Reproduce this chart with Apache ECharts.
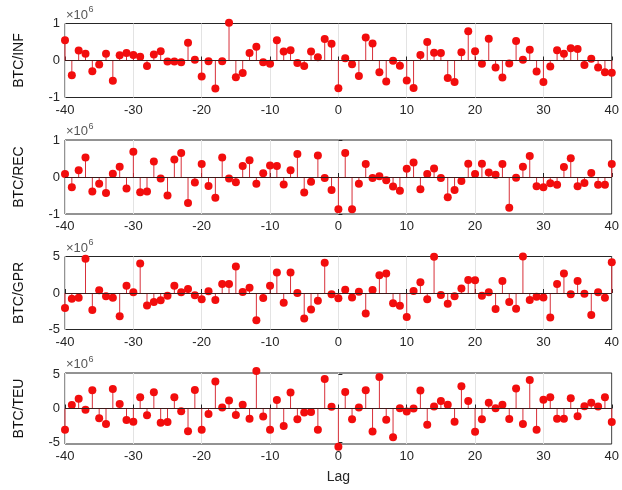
<!DOCTYPE html>
<html><head><meta charset="utf-8">
<script src="https://cdn.jsdelivr.net/npm/echarts@6/dist/echarts.min.js"></script>
<style>html,body{margin:0;padding:0;background:#fff}#c{width:622px;height:490px}</style>
</head><body><div id="c"></div>
<script>
// Lags (x axis)
const lags = [-40,-39,-38,-37,-36,-35,-34,-33,-32,-31,-30,-29,-28,-27,-26,-25,-24,-23,-22,-21,-20,-19,-18,-17,-16,-15,-14,-13,-12,-11,-10,-9,-8,-7,-6,-5,-4,-3,-2,-1,0,1,2,3,4,5,6,7,8,9,10,11,12,13,14,15,16,17,18,19,20,21,22,23,24,25,26,27,28,29,30,31,32,33,34,35,36,37,38,39,40];
const xTickLabels = [-40,-30,-20,-10,0,10,20,30,40];

// Cross-correlation values, in units of 10^6
const btcInf = [0.55,-0.40,0.27,0.18,-0.29,-0.11,0.18,-0.55,0.14,0.20,0.15,0.10,-0.15,0.16,0.25,-0.03,-0.03,-0.05,0.48,0.02,-0.43,-0.02,-0.76,-0.02,1.02,-0.45,-0.34,0.20,0.37,-0.05,-0.09,0.55,0.24,0.28,-0.07,-0.15,0.24,0.09,0.58,0.45,
  -0.75,0.06,-0.10,-0.42,0.62,0.46,-0.32,-0.57,-0.01,-0.14,-0.54,-0.74,0.15,0.50,0.21,0.20,-0.47,-0.58,0.22,0.79,0.25,-0.09,0.59,-0.19,-0.46,-0.08,0.53,0.02,0.29,-0.30,-0.58,-0.16,0.28,0.18,0.33,0.31,-0.12,0.05,-0.19,-0.32,-0.33];
const btcRec = [0.08,-0.28,0.18,0.53,-0.39,-0.18,-0.43,0.09,0.28,-0.31,0.68,-0.41,-0.39,0.42,-0.04,-0.50,0.47,0.65,-0.70,-0.15,0.35,-0.24,-0.56,0.53,-0.04,-0.14,0.30,0.45,-0.18,0.10,0.31,0.30,-0.20,0.18,0.62,-0.42,-0.13,0.58,-0.03,-0.35,
  -0.87,0.65,-0.87,-0.18,0.35,-0.03,0.02,-0.09,-0.26,-0.37,0.22,0.39,-0.33,0.08,0.23,-0.03,-0.55,-0.35,-0.11,0.36,0.08,0.36,0.12,0.06,0.35,-0.83,-0.02,0.28,0.57,-0.25,-0.28,-0.17,-0.21,0.27,0.51,-0.25,-0.16,0.11,-0.21,-0.21,0.35];
const btcGpr = [-2.06,-0.78,-0.64,4.68,-2.34,0.37,-0.46,-0.64,-3.17,1.00,0.09,4.04,-1.70,-1.24,-1.00,-0.37,1.00,0.09,0.55,-0.32,-0.87,0.23,-0.96,1.24,1.24,3.62,0.14,0.73,-3.72,-0.69,1.00,2.80,-1.33,2.80,0.00,-3.49,-2.25,-1.06,4.13,-0.18,
  -0.73,0.46,-0.60,0.18,-2.80,0.41,2.43,2.66,-1.42,-1.74,-3.30,0.28,1.47,-0.87,4.95,-0.28,-1.47,-0.46,0.60,1.79,1.74,-0.37,0.09,-2.20,1.65,-1.24,-2.16,5.00,-0.96,-0.50,-0.60,-3.35,1.24,2.66,-0.18,1.65,-0.09,-3.03,0.09,-0.64,4.22];
const btcTeu = [-3.15,0.50,1.45,-0.20,2.70,-1.45,-2.30,2.90,0.65,-1.70,-1.95,1.65,-1.00,2.40,-2.10,-2.00,1.65,-0.40,-3.35,2.75,-3.15,-0.80,4.00,0.15,1.20,-0.95,0.55,-1.50,5.55,-1.20,-3.15,1.25,-2.60,2.35,-1.60,-0.60,-0.50,-3.15,4.35,0.25,
  -5.65,2.45,-1.60,0.15,2.70,-3.40,4.65,-1.65,-4.25,0.05,-0.45,0.00,2.65,-2.40,0.30,1.10,0.55,-1.95,3.30,1.10,-3.45,-1.60,0.85,0.05,0.55,-1.55,2.95,-2.30,4.20,-3.15,1.30,1.65,-1.50,-1.50,1.50,-1.15,0.35,0.85,0.30,1.65,-2.00];

const panelNames = ['BTC/INF','BTC/REC','BTC/GPR','BTC/TEU'];
const panelData = [btcInf, btcRec, btcGpr, btcTeu];
const yTickLabels = [[-1,0,1],[-1,0,1],[-5,0,5],[-5,0,5]];
const yLimits = [[-1,1],[-1,1],[-5,5],[-5.25,5.25]];

const gridTops = [23.5, 140, 256.5, 373];
const gridHeights = [74, 74, 73, 71];
const LEFT = 65, RIGHT = 9;
const FONT = 'Liberation Sans, Arial, sans-serif';
const TXT = '#262626';

const chart = echarts.init(document.getElementById('c'), null, {renderer:'canvas'});
const grids = [], xAxes = [], yAxes = [], series = [], graphics = [];

for (let i = 0; i < 4; i++) {
  grids.push({left: LEFT, right: RIGHT, top: gridTops[i], height: gridHeights[i],
    show: true, borderColor: TXT, borderWidth: 1, backgroundColor: 'transparent'});
  xAxes.push({type: 'value', gridIndex: i, min: -40, max: 40, interval: 10,
    axisLine: {show: false},
    axisTick: {show: true, inside: true, length: 4, lineStyle: {color: TXT}},
    axisLabel: {color: TXT, fontSize: 13, fontFamily: FONT, margin: 6,
      customValues: xTickLabels},
    splitLine: {show: true, lineStyle: {color: '#e3e3e3', width: 1}},
    name: i === 3 ? 'Lag' : '', nameLocation: 'middle', nameGap: 26,
    nameTextStyle: {color: TXT, fontSize: 14, fontFamily: FONT}});
  yAxes.push({type: 'value', gridIndex: i, min: yLimits[i][0], max: yLimits[i][1],
    axisLine: {show: false},
    axisTick: {show: true, inside: true, length: 4, lineStyle: {color: TXT}, customValues: yTickLabels[i]},
    axisLabel: {color: TXT, fontSize: 13, fontFamily: FONT, margin: 5, customValues: yTickLabels[i]},
    splitLine: {show: false},
    name: panelNames[i], nameLocation: 'middle', nameRotate: 90, nameGap: 39,
    nameTextStyle: {color: '#111', fontSize: 14, fontFamily: FONT}});
  const pts = lags.map((l, k) => [l, panelData[i][k]]);
  series.push({type: 'custom', xAxisIndex: i, yAxisIndex: i, data: pts, clip: false, z: 2,
    renderItem: function (params, api) {
      const p0 = api.coord([api.value(0), 0]);
      const p1 = api.coord([api.value(0), api.value(1)]);
      return {type: 'line', shape: {x1: p0[0], y1: p0[1], x2: p1[0], y2: p1[1]},
        style: {stroke: '#d8303a', lineWidth: 1}};
    },
    markLine: {silent: true, symbol: 'none', label: {show: false},
      lineStyle: {color: '#3a1a1a', width: 1, type: 'solid'}, data: [{yAxis: 0}]}
  });
  series.push({type: 'scatter', xAxisIndex: i, yAxisIndex: i, data: pts, clip: false, z: 3,
    symbol: 'circle', symbolSize: 8, itemStyle: {color: '#f20d0d', opacity: 1}});
  graphics.push({type: 'text', left: 66, top: gridTops[i] - 15,
    style: {text: '×10', fontSize: 13, fontFamily: FONT, fill: '#555'}});
  graphics.push({type: 'text', left: 88.5, top: gridTops[i] - 18,
    style: {text: '6', fontSize: 9, fontFamily: FONT, fill: '#555'}});
}

chart.setOption({
  animation: false,
  backgroundColor: '#fff',
  grid: grids, xAxis: xAxes, yAxis: yAxes, series: series, graphic: graphics
});
</script></body></html>
